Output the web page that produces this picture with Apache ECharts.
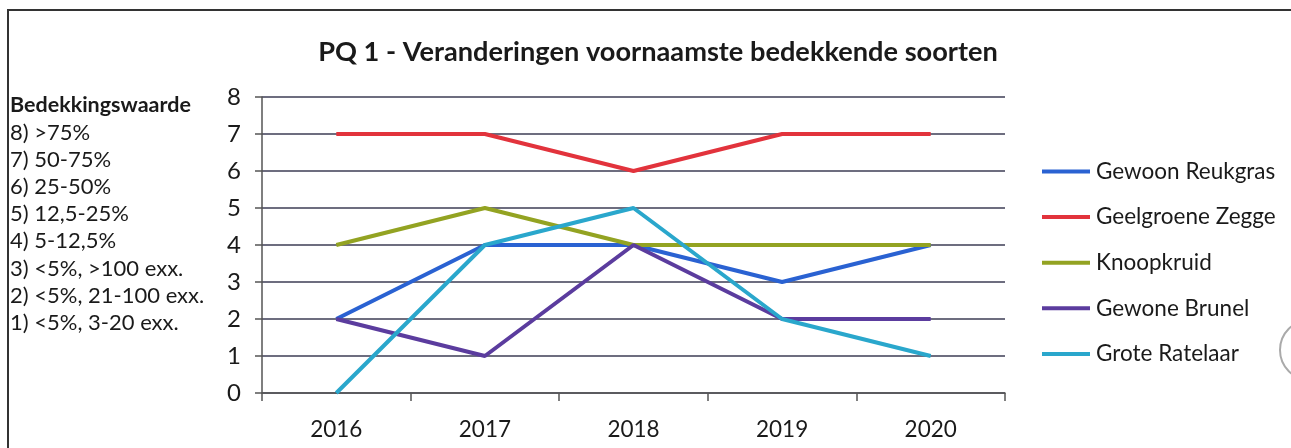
<!DOCTYPE html>
<html><head><meta charset="utf-8">
<script src="https://cdn.jsdelivr.net/npm/echarts@6/dist/echarts.min.js"></script>
<style>html,body{margin:0;padding:0;background:#fff}#c{width:1291px;height:448px}</style>
</head><body><div id="c"></div>
<script>
const categories = ['2016','2017','2018','2019','2020'];
const seriesNames = ['Gewoon Reukgras','Geelgroene Zegge','Knoopkruid','Gewone Brunel','Grote Ratelaar'];
const gewoonReukgras = [2,4,4,3,4];
const geelgroeneZegge = [7,7,6,7,7];
const knoopkruid = [4,5,4,4,4];
const gewoneBrunel = [2,1,4,2,2];
const groteRatelaar = [0,4,5,2,1];
const seriesColors = ['#2a62d2','#e2333c','#93a322','#5b3c9e','#2aa7cc'];
const scaleHeader = 'Bedekkingswaarde';
const scaleLines = ['8) >75%','7) 50-75%','6) 25-50%','5) 12,5-25%','4) 5-12,5%','3) <5%, >100 exx.','2) <5%, 21-100 exx.','1) <5%, 3-20 exx.'];
const titleText = 'PQ 1 - Veranderingen voornaamste bedekkende soorten';

const values = [gewoonReukgras, geelgroeneZegge, knoopkruid, gewoneBrunel, groteRatelaar];
const FONT = 'Lato, "Open Sans", sans-serif';

const graphic = [
  {type:'rect', shape:{x:8,y:10,width:1300,height:460}, style:{fill:'none',stroke:'#333',lineWidth:2}, z:-1},
  {type:'circle', shape:{cx:1310,cy:350,r:30}, style:{fill:'#fff',stroke:'#aaa',lineWidth:2}},
  {type:'text', style:{text:scaleHeader, x:10, y:105, font:'bold 21.5px '+FONT, fill:'#1a1a1a', verticalAlign:'middle'}}
];
scaleLines.forEach((t,i)=>{
  graphic.push({type:'text', style:{text:t, x:10, y:133+i*27.1, font:'22px '+FONT, fill:'#1a1a1a', verticalAlign:'middle'}});
});

const chart = echarts.init(document.getElementById('c'));
chart.setOption({
  backgroundColor:'#fff',
  animation:false,
  title:{text:titleText, left:653, top:34, textAlign:'center',
    textStyle:{fontFamily:FONT, fontWeight:'bold', fontSize:27.2, color:'#1a1a1a'}},
  grid:{left:262, right:286, top:97, bottom:55, containLabel:false},
  legend:{orient:'vertical', left:1042, top:159.5, padding:0, itemWidth:48, itemHeight:4, itemGap:21.6, icon:'rect',
    data:seriesNames,
    textStyle:{fontFamily:FONT, fontSize:22.5, color:'#1a1a1a', lineHeight:24, padding:[0,0,0,1]}},
  xAxis:{type:'category', data:categories, boundaryGap:true,
    axisLine:{lineStyle:{color:'#555', width:1.5}},
    axisTick:{show:true, length:8, lineStyle:{color:'#555', width:1.5}},
    axisLabel:{fontFamily:FONT, fontSize:22.5, color:'#1a1a1a', margin:25}},
  yAxis:{type:'value', min:0, max:8, interval:1,
    axisLine:{show:true, lineStyle:{color:'#555', width:1.5}},
    axisTick:{show:true, length:7, lineStyle:{color:'#555', width:1.5}},
    axisLabel:{fontFamily:FONT, fontSize:24, color:'#1a1a1a', margin:21},
    splitLine:{lineStyle:{color:'#3d3d55', width:1.5}}},
  series: seriesNames.map((n,i)=>({
    name:n, type:'line', data:values[i], symbol:'none', color:seriesColors[i],
    lineStyle:{width:4, color:seriesColors[i]}
  })),
  graphic: graphic
});
</script></body></html>
